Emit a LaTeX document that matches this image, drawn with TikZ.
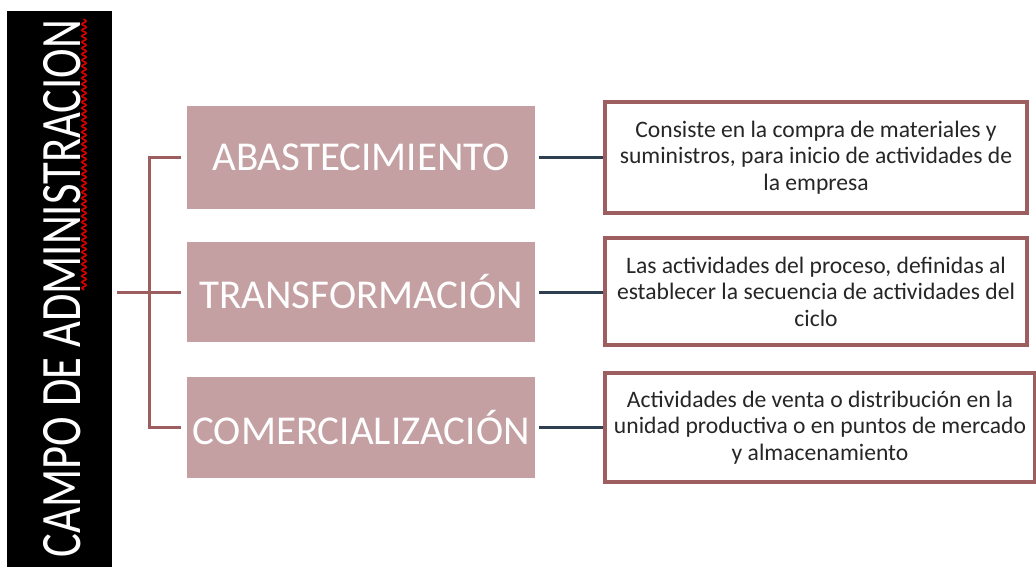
\documentclass[tikz,border=0pt]{standalone}
\usepackage{fontspec}
\setmainfont{Carlito}
\usetikzlibrary{positioning,decorations.pathmorphing}
\definecolor{rosefill}{HTML}{C4A0A2}
\definecolor{roseline}{HTML}{9C5E5E}
\definecolor{slateline}{HTML}{2E3F52}

\begin{document}
\begin{tikzpicture}[x=0.5pt, y=-0.5pt]
 \tikzset{
campo/.style = {rectangle, fill=black, minimum width=52.5pt, minimum height=278pt, inner sep=0pt},
area/.style = {rectangle, fill=rosefill, text=white, minimum width=174pt, inner sep=0pt, font=\fontsize{20.5}{24}\selectfont},
detalle/.style = {rectangle, draw=roseline, line width=2pt, fill=white, text=black!85, align=center, inner sep=0pt, font=\fontsize{11.8}{13.3}\selectfont},
rama/.style = {roseline, line width=1.5pt},
enlace/.style = {slateline, line width=1.5pt}}

    \useasboundingbox (0,0) rectangle (1036,567);

    \node [campo] (C) at (59.5,289) {};
    \node [rotate=90, text=white, inner sep=0pt, font=\fontsize{22.3}{26}\selectfont] (titulo) at (62,288.5)
      {\scalebox{1}[1.28]{CAMPO DE ADMINISTRACION}};
    \coordinate (wa) at (84,290);
    \coordinate (wb) at (84,19);
    \draw [red!85!black, line width=0.8pt, decorate, decoration={snake, amplitude=1.1pt, segment length=3pt}] (wa) -- (wb);

    \node [area, minimum height=51.5pt] (abast) at (361,157.5) {ABASTECIMIENTO};
    \node [area, minimum height=50pt] (transf) at (361,292) {TRANSFORMACIÓN};
    \node [area, minimum height=50.5pt] (comer) at (361,427.5) {COMERCIALIZACIÓN};

    \node [detalle, minimum width=211pt, minimum height=55.5pt] (consiste) at (816,157.5)
      {Consiste en la compra de materiales y\\suministros, para inicio de actividades de\\la empresa};
    \node [detalle, minimum width=211pt, minimum height=53.5pt] (proceso) at (816,291.5)
      {Las actividades del proceso, definidas al\\establecer la secuencia de actividades del\\ciclo};
    \node [detalle, minimum width=215pt, minimum height=54.5pt] (venta) at (820,427.5)
      {Actividades de venta o distribución en la\\unidad productiva o en puntos de mercado\\y almacenamiento};

    \coordinate (raiz) at (117,292);
    \coordinate (eje) at (149,292);
    \draw [rama] ([xshift=-3pt]abast.west) -- (eje |- abast.west) -- (eje |- comer.west) -- ([xshift=-3pt]comer.west);
    \draw [rama] (raiz) -- ([xshift=-3pt]transf.west);

    \draw [enlace] ([xshift=2pt]abast.east) -- (abast.east -| consiste.west);
    \draw [enlace] ([xshift=2pt]transf.east) -- (transf.east -| proceso.west);
    \draw [enlace] ([xshift=2pt]comer.east) -- (comer.east -| venta.west);

  \end{tikzpicture}
\end{document}
